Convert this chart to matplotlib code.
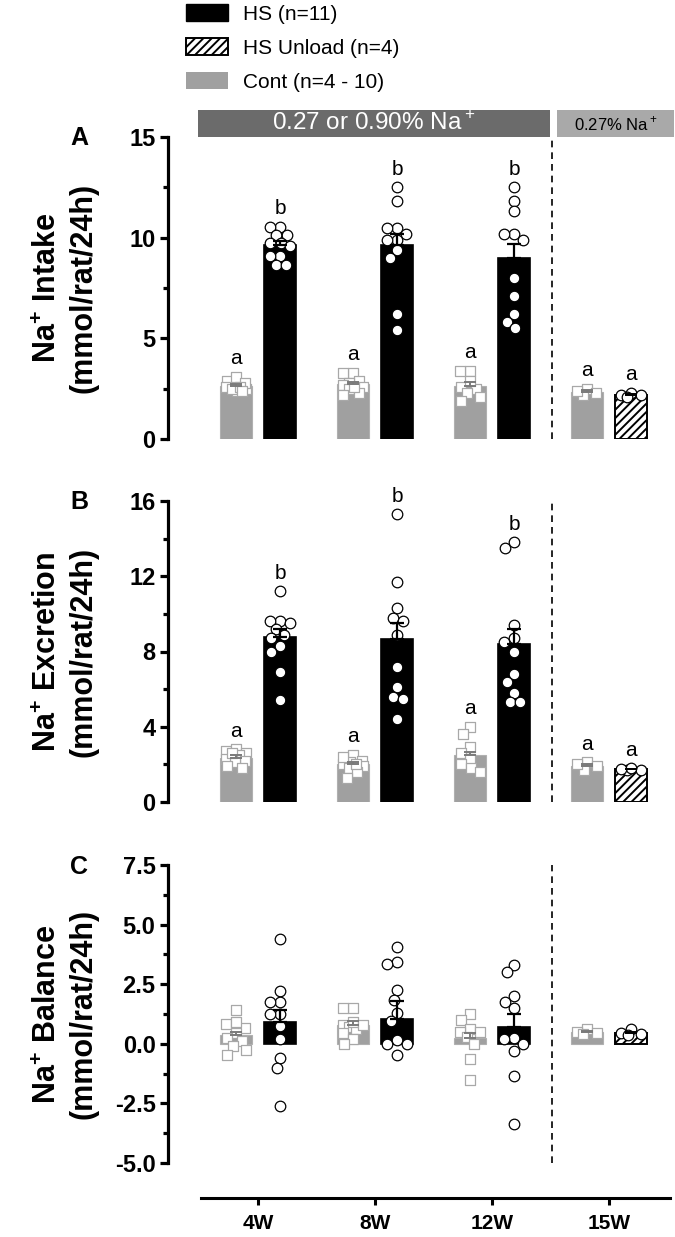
import numpy as np
import matplotlib
matplotlib.use("Agg")
import matplotlib.pyplot as plt
from matplotlib.patches import Patch, Rectangle
from matplotlib.ticker import FormatStrFormatter, FixedLocator
import matplotlib.transforms as mtrans

plt.rcParams['font.family'] = ['Liberation Sans', 'DejaVu Sans']
plt.rcParams['mathtext.fontset'] = 'custom'
plt.rcParams['mathtext.rm'] = 'Liberation Sans'
plt.rcParams['mathtext.bf'] = 'Liberation Sans:bold'
plt.rcParams['axes.unicode_minus'] = False
plt.rcParams['hatch.linewidth'] = 1.4

# ---------------- data ----------------
groups = ['4W', '8W', '12W', '15W']
legend_labels = ['HS (n=11)', 'HS Unload (n=4)', 'Cont (n=4 - 10)']
banner_labels = ['0.27 or 0.90% Na$^+$', '0.27% Na$^+$']
ylabels = ['Na$^\\mathbf{+}$ Intake\n(mmol/rat/24h)',
           'Na$^\\mathbf{+}$ Excretion\n(mmol/rat/24h)',
           'Na$^\\mathbf{+}$ Balance\n(mmol/rat/24h)']
panel_letters = ['A', 'B', 'C']

# Panel A: Na+ intake
A_cont_mean = [2.65, 2.73, 2.65, 2.35]
A_cont_sem = [0.08, 0.12, 0.16, 0.08]
A_hs_mean = [9.62, 9.64, 9.0]
A_hs_sem = [0.22, 0.53, 0.67]
A_unload_mean = 2.19
A_unload_sem = 0.05
A_cont_pts = [[2.5, 2.7, 2.9, 3.1, 2.6, 2.4, 2.8, 2.5, 2.6, 2.4],
              [3.3, 3.3, 2.9, 2.8, 2.7, 2.6, 2.5, 2.3, 2.2, 2.6],
              [3.4, 3.4, 2.6, 2.5, 2.3, 2.1, 1.9, 2.9],
              [2.5, 2.3, 2.2, 2.4]]
A_hs_pts = [[10.55, 10.55, 10.15, 10.15, 9.75, 9.75, 9.1, 9.1, 8.65, 8.65, 9.6],
            [12.5, 11.8, 10.5, 10.5, 10.2, 9.9, 9.9, 9.4, 9.0, 6.2, 5.4],
            [12.5, 11.8, 11.3, 10.2, 10.2, 9.9, 8.0, 7.1, 6.2, 5.8, 5.5]]
A_unload_pts = [2.3, 2.2, 2.2, 2.1]
A_cont_letters = ['a', 'a', 'a', 'a']
A_hs_letters = ['b', 'b', 'b']
A_unload_letter = 'a'

# Panel B: Na+ excretion
B_cont_mean = [2.36, 2.0, 2.48, 1.92]
B_cont_sem = [0.12, 0.1, 0.18, 0.1]
B_hs_mean = [8.78, 8.69, 8.39]
B_hs_sem = [0.39, 0.85, 0.81]
B_unload_mean = 1.74
B_unload_sem = 0.04
B_cont_pts = [[2.7, 2.8, 2.6, 2.5, 2.3, 2.2, 2.1, 1.9, 1.8, 2.6],
              [2.5, 2.2, 2.1, 2.0, 1.9, 1.8, 1.6, 1.3, 2.4, 2.0],
              [4.0, 3.6, 2.9, 2.6, 2.3, 2.0, 1.8, 1.6],
              [2.1, 1.9, 1.7, 2.0]]
B_hs_pts = [[11.2, 9.6, 9.6, 9.5, 9.2, 8.9, 8.7, 8.3, 8.0, 6.9, 5.4],
            [15.3, 11.7, 10.3, 9.8, 9.6, 8.9, 7.2, 6.1, 5.6, 5.5, 4.4],
            [13.5, 13.8, 9.4, 8.7, 8.5, 8.0, 6.8, 6.4, 5.8, 5.3, 5.3]]
B_unload_pts = [1.7, 1.7, 1.8, 1.75]
B_cont_letters = ['a', 'a', 'a', 'a']
B_hs_letters = ['b', 'b', 'b']
B_unload_letter = 'a'

# Panel C: Na+ balance
C_cont_mean = [0.38, 0.8, 0.24, 0.49]
C_cont_sem = [0.11, 0.14, 0.21, 0.05]
C_hs_mean = [0.91, 1.03, 0.7]
C_hs_sem = [0.49, 0.77, 0.54]
C_unload_mean = 0.45
C_unload_sem = 0.06
C_cont_pts = [[1.4, 0.85, 0.65, 0.45, 0.25, 0.1, -0.1, -0.25, -0.45, 0.9],
              [1.5, 1.5, 0.8, 0.7, 0.6, 0.45, 0.2, 0.0, 0.9, 0.8],
              [1.25, 1.0, 0.6, 0.5, 0.3, 0.0, -0.65, -1.5, 0.5],
              [0.6, 0.5, 0.4, 0.45]]
C_hs_pts = [[4.4, 2.2, 1.75, 1.75, 1.25, 1.25, 0.75, 0.2, -0.6, -1.0, -2.6],
            [4.05, 3.45, 3.35, 2.25, 1.85, 1.3, 0.95, 0.15, 0.0, 0.0, -0.45],
            [3.3, 3.0, 2.0, 1.75, 1.5, 0.25, 0.2, 0.0, -0.3, -1.35, -3.35]]
C_unload_pts = [0.6, 0.45, 0.4, 0.35]

# ---------------- style ----------------
HS_COLOR = 'black'
CONT_COLOR = '#a0a0a0'
CONT_EDGE = '#a8a8a8'
CONT_ERR = '#7a7a7a'
DARK_BANNER = '#6b6b6b'
LIGHT_BANNER = '#a9a9a9'

W_PX, H_PX = 675, 1237
fig = plt.figure(figsize=(W_PX / 100, H_PX / 100), dpi=100)

def fig_rect(top_px, bottom_px, left_px=168, right_px=675):
    return [left_px / W_PX, 1 - bottom_px / H_PX, (right_px - left_px) / W_PX,
            (bottom_px - top_px) / H_PX]

axA = fig.add_axes(fig_rect(137, 439))
axB = fig.add_axes(fig_rect(501, 802))
axC = fig.add_axes(fig_rect(865, 1163))

xpos = np.arange(len(groups))
off = 0.188
bw = 0.274
divider = 2.513
XLIM = (-0.769, 3.564)


def swarm_x(ax, xc, vals, diam_px, max_off_px):
    """Spread points sideways within a limited band, overlapping when needed."""
    vals = np.asarray(vals, dtype=float)
    tr = ax.transData
    pts = tr.transform(np.column_stack([np.full(len(vals), xc), vals]))
    ys = pts[:, 1]
    x0 = pts[0, 0]
    cands = np.linspace(-max_off_px, max_off_px, 15)
    cands = cands[np.argsort(np.abs(cands), kind='stable')]
    placed = []
    dxs = np.zeros(len(vals))
    order = np.argsort(-vals, kind='stable')
    for i in order:
        best, best_d = 0.0, -1.0
        for dx in cands:
            if placed:
                d = min(np.hypot(dx - px, ys[i] - py) for px, py in placed)
            else:
                d = np.inf
            if d >= diam_px * 0.9:
                best = dx
                break
            if d > best_d + 1e-9:
                best, best_d = dx, d
        placed.append((best, ys[i]))
        dxs[i] = best
    back = tr.inverted().transform(np.column_stack([x0 + dxs, ys]))
    return back[:, 0]


def draw_panel(ax, cont_mean, cont_sem, hs_mean, hs_sem, un_mean, un_sem,
               cont_pts, hs_pts, un_pts, ylim, major, minor, fmt,
               cont_letters=None, hs_letters=None, un_letter=None):
    ax.set_xlim(*XLIM)
    ax.set_ylim(*ylim)
    # bars
    ax.bar(xpos - off, cont_mean, width=bw, color=CONT_COLOR, edgecolor='#b0b0b0',
           linewidth=0.8, zorder=2)
    ax.bar(xpos[:3] + off, hs_mean, width=bw, color=HS_COLOR, edgecolor=HS_COLOR,
           linewidth=1.2, zorder=2)
    ax.bar([xpos[3] + off], [un_mean], width=bw, color='white', edgecolor='black',
           hatch='////', linewidth=1.4, zorder=2)
    # points
    for i, vals in enumerate(cont_pts):
        xs = swarm_x(ax, xpos[i] - off, vals, 10.5, 10)
        ax.scatter(xs, vals, marker='s', s=52, facecolor='white', edgecolor=CONT_EDGE,
                   linewidth=0.9, zorder=4, clip_on=False)
    for i, vals in enumerate(hs_pts):
        xs = swarm_x(ax, xpos[i] + off, vals, 11, 10)
        ax.scatter(xs, vals, marker='o', s=58, facecolor='white', edgecolor='black',
                   linewidth=0.9, zorder=4, clip_on=False)
    xs = swarm_x(ax, xpos[3] + off, un_pts, 11, 10)
    ax.scatter(xs, un_pts, marker='o', s=58, facecolor='white', edgecolor='black',
               linewidth=0.9, zorder=4, clip_on=False)
    # error bars (upper only)
    ax.errorbar(xpos - off, cont_mean, yerr=[np.zeros(4), cont_sem], fmt='none',
                ecolor=CONT_ERR, elinewidth=1.4, capsize=4.5, capthick=1.4, zorder=5)
    ax.errorbar(xpos[:3] + off, hs_mean, yerr=[np.zeros(3), hs_sem], fmt='none',
                ecolor='black', elinewidth=1.6, capsize=4.7, capthick=1.6, zorder=5)
    ax.errorbar([xpos[3] + off], [un_mean], yerr=[[0], [un_sem]], fmt='none',
                ecolor='black', elinewidth=1.4, capsize=4.5, capthick=1.4, zorder=5)
    # letters
    if cont_letters is not None:
        for i, lt in enumerate(cont_letters):
            top = max(max(cont_pts[i]), cont_mean[i] + cont_sem[i])
            ax.annotate(lt, (xpos[i] - off, top), xytext=(0, 13),
                        textcoords='offset points', ha='center', va='center',
                        fontsize=15, annotation_clip=False)
        for i, lt in enumerate(hs_letters):
            top = max(max(hs_pts[i]), hs_mean[i] + hs_sem[i])
            ax.annotate(lt, (xpos[i] + off, top), xytext=(0, 13),
                        textcoords='offset points', ha='center', va='center',
                        fontsize=15, annotation_clip=False)
        top = max(max(un_pts), un_mean + un_sem)
        ax.annotate(un_letter, (xpos[3] + off, top), xytext=(0, 13),
                    textcoords='offset points', ha='center', va='center',
                    fontsize=15, annotation_clip=False)
    # divider
    ax.axvline(divider, color='black', linestyle=(0, (4, 3)), linewidth=1.2, zorder=1)
    # axes styling
    for s in ['top', 'right', 'bottom']:
        ax.spines[s].set_visible(False)
    ax.spines['left'].set_linewidth(2.3)
    ax.yaxis.set_major_locator(FixedLocator(major))
    ax.yaxis.set_minor_locator(FixedLocator(minor))
    if fmt:
        ax.yaxis.set_major_formatter(FormatStrFormatter(fmt))
    ax.tick_params(axis='y', which='major', length=6, width=2.3, direction='out',
                   labelsize=17, pad=3)
    ax.tick_params(axis='y', which='minor', length=3.5, width=2.3, direction='out')
    for lab in ax.get_yticklabels():
        lab.set_fontweight('bold')
    ax.set_xticks([])


draw_panel(axA, A_cont_mean, A_cont_sem, A_hs_mean, A_hs_sem, A_unload_mean, A_unload_sem,
           A_cont_pts, A_hs_pts, A_unload_pts, (0, 15), [0, 5, 10, 15], [2.5, 7.5, 12.5],
           None, A_cont_letters, A_hs_letters, A_unload_letter)
draw_panel(axB, B_cont_mean, B_cont_sem, B_hs_mean, B_hs_sem, B_unload_mean, B_unload_sem,
           B_cont_pts, B_hs_pts, B_unload_pts, (0, 16), [0, 4, 8, 12, 16], [2, 6, 10, 14],
           None, B_cont_letters, B_hs_letters, B_unload_letter)
draw_panel(axC, C_cont_mean, C_cont_sem, C_hs_mean, C_hs_sem, C_unload_mean, C_unload_sem,
           C_cont_pts, C_hs_pts, C_unload_pts, (-5, 7.5), [-5, -2.5, 0, 2.5, 5, 7.5],
           [-3.75, -1.25, 1.25, 3.75, 6.25], '%.1f')

# bottom x axis on panel C
axC.spines['bottom'].set_visible(True)
axC.spines['bottom'].set_position(('outward', 25))
axC.spines['bottom'].set_linewidth(2.2)
axC.spines['bottom'].set_bounds(-0.487, 3.52)
axC.set_xticks(xpos)
axC.set_xticklabels(groups)
axC.tick_params(axis='x', length=5, width=2.2, direction='out', labelsize=15, pad=7)
for lab in axC.get_xticklabels():
    lab.set_fontweight('bold')

# y labels and panel letters
for ax, lab, letter, ltop in zip([axA, axB, axC], ylabels, panel_letters, [138, 502, 867]):
    pos = ax.get_position()
    fig.text(65.5 / W_PX, (pos.y0 + pos.y1) / 2, lab, rotation=90, ha='center', va='center',
             fontsize=22, fontweight='bold', linespacing=1.25, multialignment='center')
    fig.text(79 / W_PX, 1 - ltop / H_PX, letter, ha='center', va='center',
             fontsize=18, fontweight='bold')

# banners above panel A
btr = mtrans.blended_transform_factory(axA.transData, fig.transFigure)
b_y0 = 1 - 137 / H_PX
b_h = 27 / H_PX
fig.add_artist(Rectangle((-0.513, b_y0), divider - 0.017 + 0.513, b_h, transform=btr,
                         facecolor=DARK_BANNER, edgecolor='none', clip_on=False))
fig.add_artist(Rectangle((divider + 0.043, b_y0), 3.556 - divider - 0.043, b_h, transform=btr,
                         facecolor=LIGHT_BANNER, edgecolor='none', clip_on=False))
fig.text((-0.513 + divider - 0.017) / 2, b_y0 + b_h / 2, banner_labels[0], transform=btr,
         ha='center', va='center', color='white', fontsize=17.5)
fig.text((divider + 0.043 + 3.556) / 2, b_y0 + b_h / 2, banner_labels[1], transform=btr,
         ha='center', va='center', color='black', fontsize=12)

# legend
handles = [Patch(facecolor=HS_COLOR, edgecolor=HS_COLOR),
           Patch(facecolor='white', edgecolor='black', hatch='////', linewidth=1.4),
           Patch(facecolor=CONT_COLOR, edgecolor='none')]
fig.legend(handles, legend_labels, loc='upper left', bbox_to_anchor=(186 / W_PX, 1 - 4 / H_PX),
           frameon=False, fontsize=15, handlelength=2.0, handleheight=0.9,
           handletextpad=0.75, labelspacing=0.68, borderpad=0, borderaxespad=0)

fig.savefig('out.png', dpi=100)
